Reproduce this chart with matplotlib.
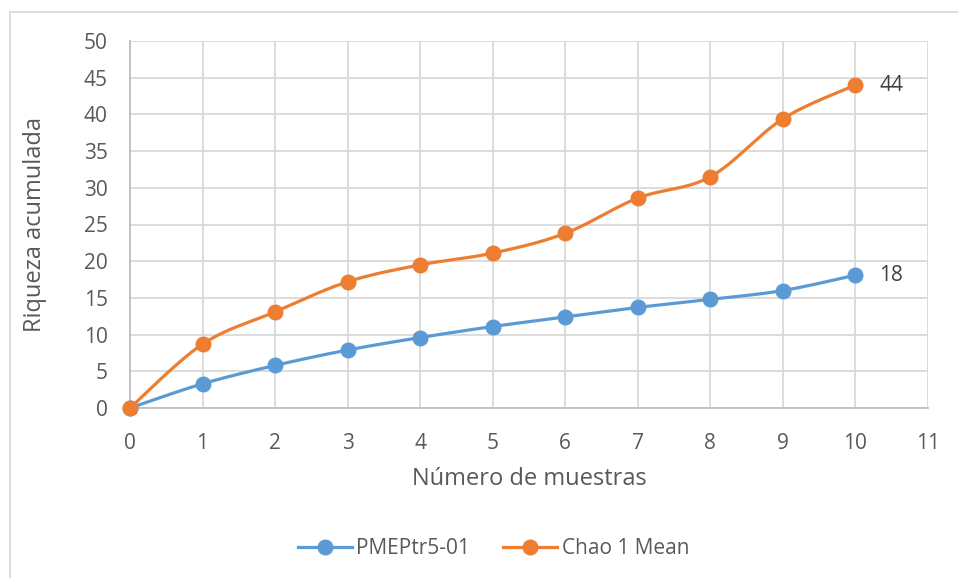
import numpy as np
import matplotlib
matplotlib.use("Agg")
import matplotlib.pyplot as plt
from matplotlib.lines import Line2D

plt.rcParams['font.family'] = ['Open Sans', 'DejaVu Sans']

x_vals = [0, 1, 2, 3, 4, 5, 6, 7, 8, 9, 10]
pmeptr = [0, 3.3, 5.8, 7.9, 9.6, 11.1, 12.4, 13.7, 14.8, 16.0, 18.1]
chao1 = [0, 8.7, 13.1, 17.2, 19.5, 21.1, 23.8, 28.6, 31.5, 39.4, 44.0]
series_names = ["PMEPtr5-01", "Chao 1 Mean"]
series_colors = ["#5B9BD5", "#ED7D31"]
end_labels = ["18", "44"]
x_ticks = list(range(0, 12))
y_ticks = list(range(0, 51, 5))


def smooth(xs, ys, n=30):
    xs = np.asarray(xs, float)
    ys = np.asarray(ys, float)
    pts = np.column_stack([xs, ys])
    out = []
    for i in range(len(pts) - 1):
        p0 = pts[i - 1] if i > 0 else pts[i]
        p1 = pts[i]
        p2 = pts[i + 1]
        p3 = pts[i + 2] if i + 2 < len(pts) else pts[i + 1]
        c1 = p1 + (p2 - p0) / 6.0
        c2 = p2 - (p3 - p1) / 6.0
        t = np.linspace(0, 1, n)[:, None]
        seg = ((1 - t) ** 3) * p1 + 3 * ((1 - t) ** 2) * t * c1 + 3 * (1 - t) * t ** 2 * c2 + t ** 3 * p2
        if i > 0:
            seg = seg[1:]
        out.append(seg)
    out = np.vstack(out)
    return out[:, 0], out[:, 1]


W, H = 958, 578
fig = plt.figure(figsize=(W / 100, H / 100), dpi=100)
ax = fig.add_axes([130 / W, 1 - 408 / H, (928 - 130) / W, (408 - 41) / H])

ax.set_xlim(0, 11)
ax.set_ylim(0, 50)
ax.set_xticks(x_ticks)
ax.set_yticks(y_ticks)
ax.grid(True, color="#D9D9D9", linewidth=1.3)
ax.set_axisbelow(True)
for s in ["top", "right"]:
    ax.spines[s].set_visible(False)
for s in ["left", "bottom"]:
    ax.spines[s].set_color("#BFBFBF")
    ax.spines[s].set_linewidth(1.3)
ax.tick_params(length=0, labelsize=15, labelcolor="#595959")
ax.tick_params(axis='x', pad=18)
ax.tick_params(axis='y', pad=16)

handles = []
for ys, name, col in zip([pmeptr, chao1], series_names, series_colors):
    sx, sy = smooth(x_vals, ys)
    ax.plot(sx, sy, color=col, linewidth=2.3, solid_capstyle='round', clip_on=False, zorder=3)
    ax.plot(x_vals, ys, linestyle='none', marker='o', markersize=10.5, color=col, clip_on=False, zorder=4)
    handles.append(Line2D([0], [0], color=col, linewidth=2.3, marker='o', markersize=10.5))

for ys, lab in zip([pmeptr, chao1], end_labels):
    ax.annotate(lab, (x_vals[-1], ys[-1]), xytext=(17, 0), textcoords='offset points',
                ha='left', va='center', fontsize=15, color="#404040")

ax.set_xlabel("Número de muestras", fontsize=17, color="#595959")
ax.xaxis.set_label_coords(0.5, (408 - 479) / 367, transform=ax.transAxes)
ax.xaxis.label.set_va('center')
ax.set_ylabel("Riqueza acumulada", fontsize=17, color="#595959")
ax.yaxis.set_label_coords((35 - 130) / 798, 0.5, transform=ax.transAxes)
ax.yaxis.label.set_va('center')

fig.legend(handles, series_names, loc='center', bbox_to_anchor=(0.515, 1 - 549 / H), ncol=2,
           frameon=False, fontsize=15, labelcolor="#595959", handlelength=2.6,
           handletextpad=0.2, columnspacing=1.6)

fig.add_artist(Line2D([10 / W, 10 / W], [0, 1 - 12 / H], color="#D9D9D9", linewidth=1.3))
fig.add_artist(Line2D([10 / W, 1], [1 - 12 / H, 1 - 12 / H], color="#D9D9D9", linewidth=1.3))

fig.savefig("out.png", dpi=100, facecolor="white")
